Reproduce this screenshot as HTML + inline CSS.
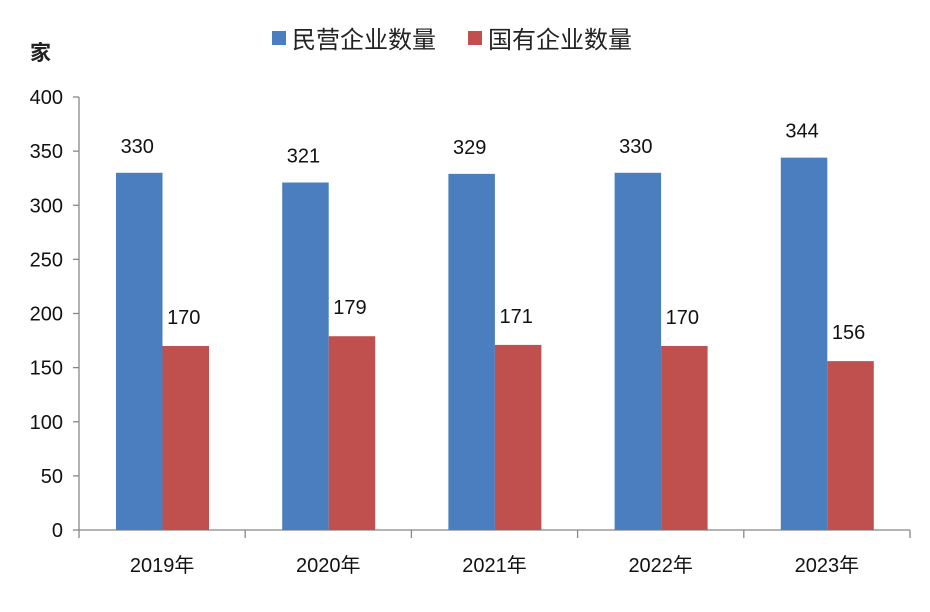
<!DOCTYPE html>
<html><head><meta charset="utf-8"><style>
body{margin:0;background:#fff;}
svg{display:block;font-family:"Liberation Sans","Noto Sans CJK SC",sans-serif;}
</style></head><body>
<svg id="chart" width="930" height="612">
<rect width="930" height="612" fill="#fff"/>
<text x="30" y="60" font-size="21" font-weight="bold" fill="#222">家</text>
<g>
<rect x="272" y="31" width="14" height="14" fill="#4a7ebf"/>
<text x="292" y="48" font-size="24" fill="#222">民营企业数量</text>
<rect x="468" y="31" width="14" height="14" fill="#c0504d"/>
<text x="488" y="48" font-size="24" fill="#222">国有企业数量</text>
</g>
<g id="axes"></g>
<g id="bars"></g>
</svg>
<script>
const categories=["2019年","2020年","2021年","2022年","2023年"];
const privateVals=[330,321,329,330,344];
const stateVals=[170,179,171,170,156];
const yTicks=[0,50,100,150,200,250,300,350,400];
const NS="http://www.w3.org/2000/svg";
const x0=79,x1=910,yBase=530,yTop=97,yMax=400;
const catW=(x1-x0)/categories.length;
function y(v){return yBase-(v/yMax)*(yBase-yTop);}
function mk(t,a,txt){const e=document.createElementNS(NS,t);for(const k in a)e.setAttribute(k,a[k]);if(txt!==undefined)e.textContent=txt;return e;}
const ax=document.getElementById('axes'),bars=document.getElementById('bars');
let e=mk('line',{x1:x0,y1:yTop,x2:x0,y2:yBase,stroke:'#888','stroke-width':1.3});


ax.appendChild(e);
e=mk('line',{x1:x0,y1:yBase,x2:x1,y2:yBase,stroke:'#888','stroke-width':1.3});


ax.appendChild(e);
yTicks.forEach(v=>{
 let t=mk('line',{x1:x0-6,y1:y(v),x2:x0,y2:y(v),stroke:'#888','stroke-width':1.3});
 
 
 ax.appendChild(t);
 let l=mk('text',{x:x0-16,y:y(v)+7,'font-size':20,'text-anchor':'end',fill:'#111'},String(v));
 
 
 ax.appendChild(l);
});
for(let i=0;i<=categories.length;i++){
 let t=mk('line',{x1:x0+i*catW,y1:yBase,x2:x0+i*catW,y2:yBase+8,stroke:'#888','stroke-width':1.3});
 
 
 ax.appendChild(t);
}
categories.forEach((c,i)=>{
 const cx=x0+i*catW;
 let l=mk('text',{x:cx+catW/2,y:572,'font-size':20,'text-anchor':'middle',fill:'#111'},c);
 
 
 ax.appendChild(l);
 const bw=46.5,bx=cx+37;
 let b=mk('rect',{x:bx,y:y(privateVals[i]),width:bw,height:yBase-y(privateVals[i]),fill:'#4a7ebf'});
 
 
 bars.appendChild(b);
 let r=mk('rect',{x:bx+bw,y:y(stateVals[i]),width:bw,height:yBase-y(stateVals[i]),fill:'#c0504d'});
 
 
 bars.appendChild(r);
 let lp=mk('text',{x:bx+bw/2-2,y:y(privateVals[i])-20,'font-size':20,'text-anchor':'middle',fill:'#111'},String(privateVals[i]));
 
 
 bars.appendChild(lp);
 let ls=mk('text',{x:bx+bw*1.5-2,y:y(stateVals[i])-22,'font-size':20,'text-anchor':'middle',fill:'#111'},String(stateVals[i]));
 
 
 bars.appendChild(ls);
});
</script>
</body></html>
